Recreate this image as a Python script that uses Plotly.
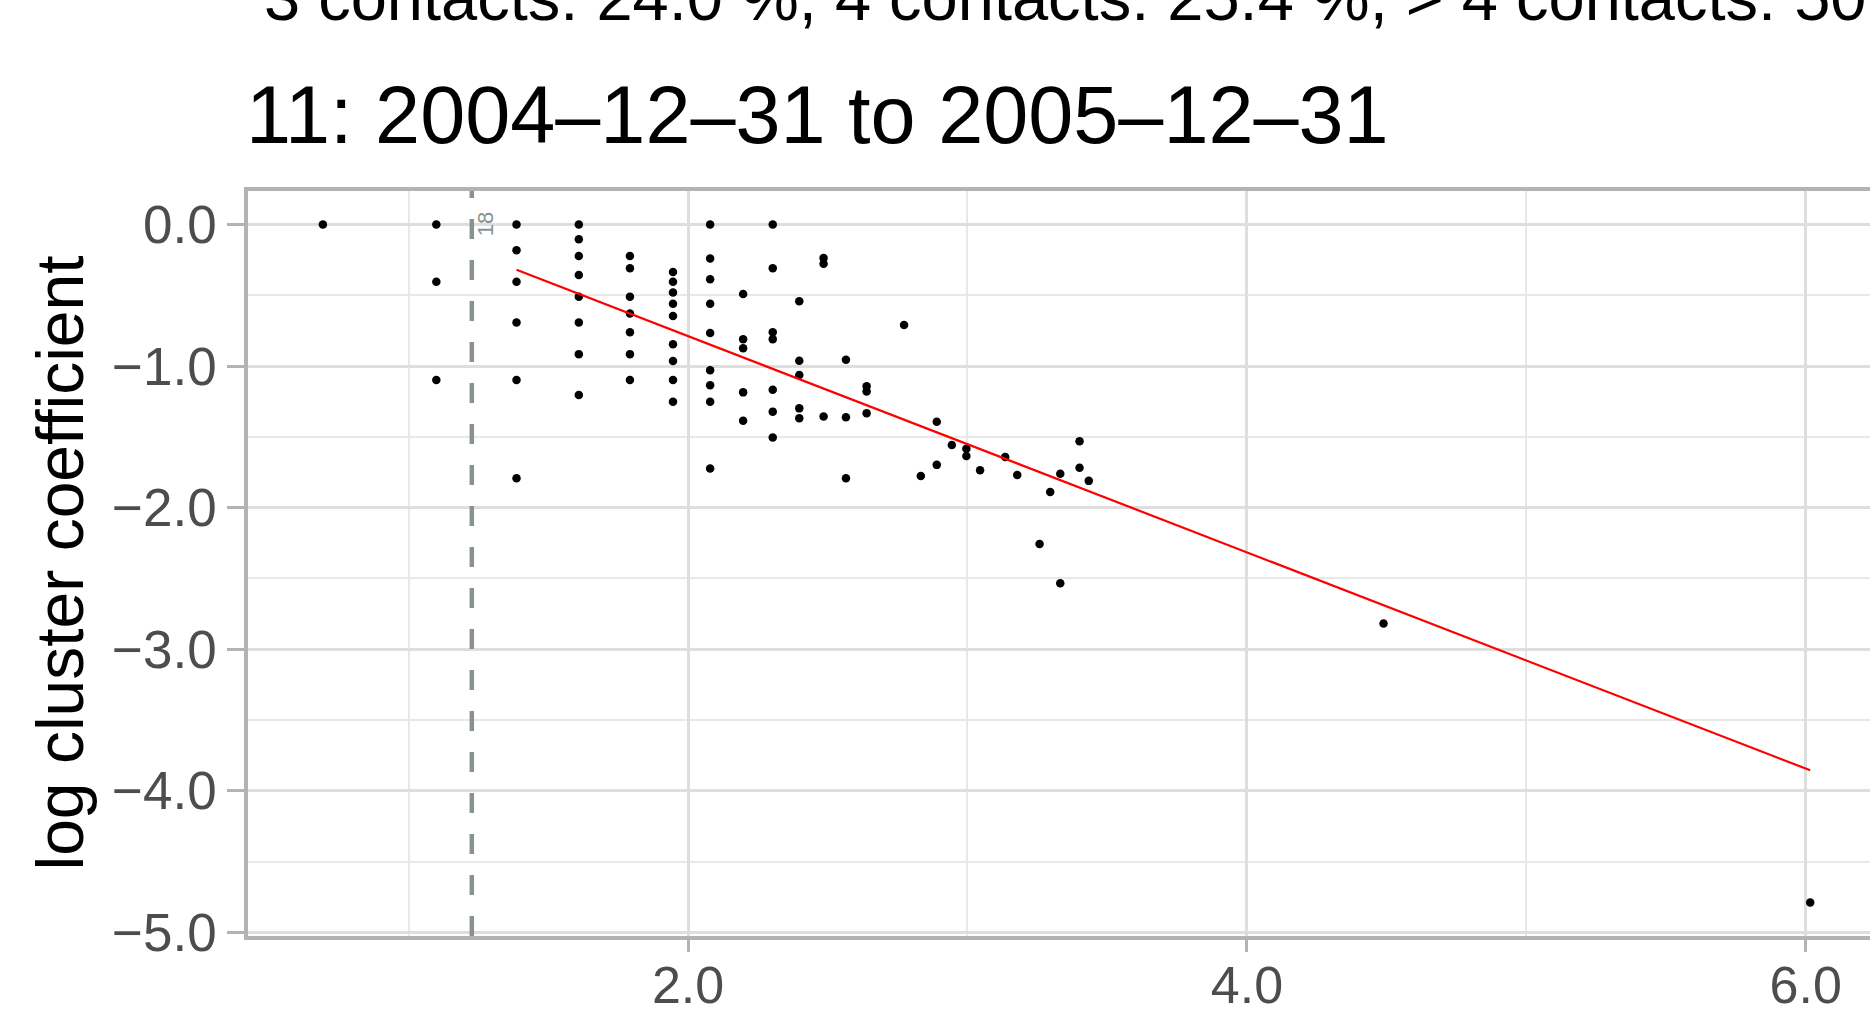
import plotly.graph_objects as go

# ---- data ----
log_degree = [
    0.693,
    1.099, 1.099, 1.099,
    1.386, 1.386, 1.386, 1.386, 1.386, 1.386,
    1.609, 1.609, 1.609, 1.609, 1.609, 1.609, 1.609, 1.609,
    1.792, 1.792, 1.792, 1.792, 1.792, 1.792, 1.792,
    1.946, 1.946, 1.946, 1.946, 1.946, 1.946, 1.946, 1.946, 1.946,
    2.079, 2.079, 2.079, 2.079, 2.079, 2.079, 2.079, 2.079, 2.079,
    2.197, 2.197, 2.197, 2.197, 2.197,
    2.303, 2.303, 2.303, 2.303, 2.303, 2.303, 2.303,
    2.398, 2.398, 2.398, 2.398, 2.398,
    2.485, 2.485, 2.485,
    2.565, 2.565, 2.565,
    2.639, 2.639, 2.639,
    2.773, 2.833, 2.890, 2.890, 2.944, 2.996, 2.996, 3.045,
    3.135, 3.178, 3.258, 3.296, 3.332, 3.332, 3.401, 3.401, 3.434,
    4.489, 6.016,
]
log_cluster = [
    0.0,
    0.0, -0.405, -1.099,
    0.0, -0.182, -0.405, -0.693, -1.099, -1.792,
    0.0, -0.105, -0.223, -0.357, -0.511, -0.693, -0.916, -1.204,
    -0.223, -0.310, -0.511, -0.629, -0.762, -0.916, -1.099,
    -0.336, -0.405, -0.480, -0.560, -0.647, -0.847, -0.965, -1.099, -1.253,
    0.0, -0.241, -0.388, -0.560, -0.767, -1.030, -1.135, -1.253, -1.723,
    -0.492, -0.811, -0.875, -1.186, -1.386,
    0.0, -0.310, -0.762, -0.811, -1.168, -1.322, -1.504,
    -0.542, -0.963, -1.063, -1.299, -1.368,
    -0.238, -0.278, -1.356,
    -0.955, -1.361, -1.792,
    -1.143, -1.179, -1.333,
    -0.710, -1.777, -1.393, -1.698, -1.558, -1.584, -1.636, -1.736,
    -1.642, -1.770, -2.257, -1.890, -1.761, -2.534, -1.532, -1.719, -1.811,
    -2.818, -4.789,
]
fit_x = [1.386, 6.016]
fit_y = [-0.320, -3.855]
cutoff_x = 1.226
cutoff_label = "18"

x_tickvals = [2, 4, 6]
x_ticktext = ["2.0", "4.0", "6.0"]
y_tickvals = [0, -1, -2, -3, -4, -5]
y_ticktext = ["0.0", "\u22121.0", "\u22122.0", "\u22123.0", "\u22124.0", "\u22125.0"]

title_text = "11: 2004\u201312\u201331 to 2005\u201312\u201331"
top_text = "3 contacts: 24.0 %, 4 contacts: 25.4 %, > 4 contacts: 50.6 %"
y_title = "log cluster coefficient"

# ---- layout geometry (pixels) ----
W, H = 1870, 1009
L, R, T, B = 248, 0, 191, 73
PH = H - T - B
PW = W - L - R


def py(y):
    return (H - B - y) / PH


def px(x):
    return (x - L) / PW


FONT = "Liberation Sans, Arial, sans-serif"
GRID = "#DEDEDE"
MINOR = "#E8E8E8"
BORDER = "#B3B3B3"

fig = go.Figure()
fig.add_trace(go.Scatter(
    x=log_degree, y=log_cluster, mode="markers",
    marker=dict(color="black", size=8.5), showlegend=False, hoverinfo="skip",
))
fig.add_trace(go.Scatter(
    x=fit_x, y=fit_y, mode="lines",
    line=dict(color="#FF0000", width=2.2), showlegend=False, hoverinfo="skip",
))

fig.add_shape(type="line", xref="x", yref="paper", x0=cutoff_x, x1=cutoff_x,
              y0=0, y1=1, line=dict(color="#8A9290", width=4.5, dash="20px,21px"),
              layer="above")

fig.add_annotation(x=cutoff_x + 0.047, y=0, xref="x", yref="y", text=cutoff_label,
                   textangle=-90, showarrow=False,
                   font=dict(family=FONT, size=22, color="#8A9290"))

fig.add_annotation(x=px(244), y=py(115), xref="paper", yref="paper",
                   xanchor="left", yanchor="middle", text=title_text,
                   showarrow=False, font=dict(family=FONT, size=81, color="black"))

fig.add_annotation(x=px(262), y=py(-3), xref="paper", yref="paper",
                   xanchor="left", yanchor="middle", text=top_text,
                   showarrow=False, font=dict(family=FONT, size=65, color="black"))

fig.add_annotation(x=px(59), y=0.5, xref="paper", yref="paper",
                   xanchor="center", yanchor="middle", text=y_title, textangle=-90,
                   showarrow=False, font=dict(family=FONT, size=66, color="black"))

fig.update_layout(
    width=W, height=H,
    margin=dict(l=L, r=R, t=T, b=B, pad=0, autoexpand=False),
    paper_bgcolor="white", plot_bgcolor="white",
    font=dict(family=FONT),
    showlegend=False,
)
fig.update_xaxes(
    automargin=False,
    range=[0.425, 6.23], tickvals=x_tickvals, ticktext=x_ticktext,
    showgrid=True, gridcolor=GRID, gridwidth=2.7, zeroline=False,
    minor=dict(tickvals=[1, 3, 5], showgrid=True, gridcolor=MINOR, gridwidth=1.5, ticks=""),
    showline=True, linecolor=BORDER, linewidth=3.5, mirror=True,
    ticks="outside", ticklen=12, tickwidth=2.5, tickcolor=BORDER,
    ticklabelstandoff=-11,
    tickfont=dict(family=FONT, size=52, color="#4D4D4D"),
)
fig.update_yaxes(
    automargin=False,
    range=[-5.025, 0.236], tickvals=y_tickvals, ticktext=y_ticktext,
    showgrid=True, gridcolor=GRID, gridwidth=2.7, zeroline=False,
    minor=dict(tickvals=[-0.5, -1.5, -2.5, -3.5, -4.5], showgrid=True,
               gridcolor=MINOR, gridwidth=1.5, ticks=""),
    showline=True, linecolor=BORDER, linewidth=3.5, mirror=False,
    ticks="outside", ticklen=17, tickwidth=2.5, tickcolor=BORDER,
    tickfont=dict(family=FONT, size=53, color="#4D4D4D"),
)

fig.write_html("out.html", config={"displayModeBar": False},
               post_script="document.body.style.margin='0';")
